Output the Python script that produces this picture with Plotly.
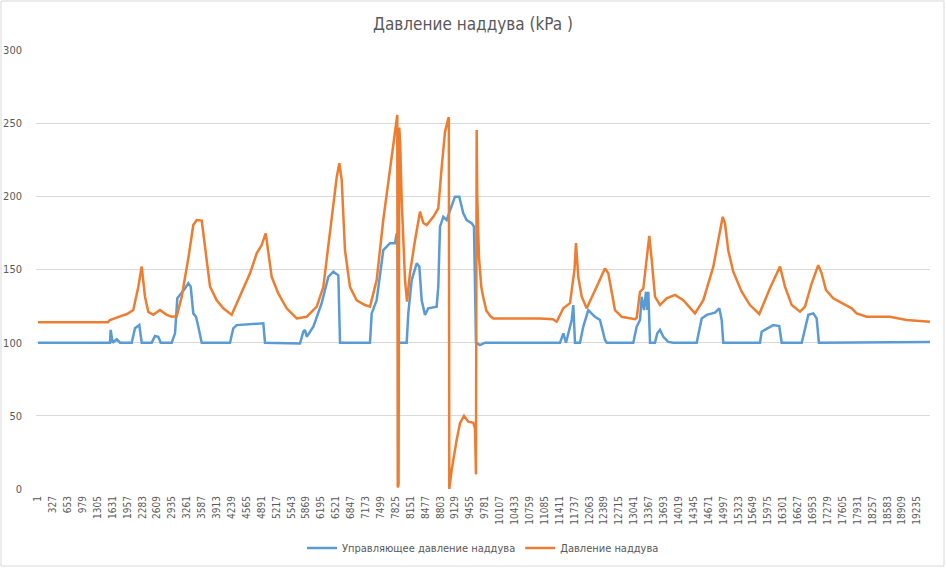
import plotly.graph_objects as go

# ---- data (sample index, value in kPa) ----
blue_name = "Управляющее давление наддува"
orange_name = "Давление наддува"

blue_x = [1, 1576, 1591, 1635, 1723, 1795, 2051, 2123, 2217, 2270, 2489, 2561, 2633, 2686,
          2926, 2999, 3049, 3108, 3217, 3290, 3342, 3399, 3458, 3508, 3583, 4202, 4274, 4349,
          4931, 4968, 5734, 5806, 5843, 5880, 6025, 6208, 6353, 6462, 6572, 6609, 7265, 7302,
          7411, 7556, 7702, 7812, 7849, 7870, 7884, 8068, 8103, 8177, 8287, 8344, 8396, 8468,
          8540, 8724, 8759, 8797, 8869, 8943, 9015, 9124, 9218, 9306, 9380, 9490, 9540, 9584,
          9671, 9781, 11423, 11495, 11554, 11605, 11678, 11713, 11750, 11859, 11932, 12041,
          12188, 12297, 12407, 12444, 13026, 13100, 13173, 13210, 13260, 13304, 13332, 13354,
          13392, 13501, 13551, 13610, 13683, 13791, 13901, 14413, 14522, 14632, 14814, 14908,
          14960, 14995, 15798, 15835, 15979, 16089, 16220, 16273, 16711, 16783, 16856, 16965,
          17038, 17088, 18058, 18095, 19518]
blue_y = [100, 100, 108.7, 100, 102.3, 100, 100, 109.8, 112, 100, 100, 104.6, 104, 100,
          100, 106.4, 130.3, 132.6, 137, 140.6, 138.3, 120, 117.7, 111, 100, 100, 109.8, 112,
          113.2, 100, 99.5, 107.5, 108.7, 104, 111, 127, 145, 148.5, 146, 100, 100, 120,
          129, 163.3, 168, 168, 174.7, 168, 100, 100, 120, 142.8, 154.2, 152, 129, 119,
          123.5, 124.6, 138.3, 179.3, 186, 183.8, 190.7, 199.8, 199.8, 188.4, 183.8, 181.6, 179.3, 100,
          98.4, 100, 100, 106.4, 100, 106.4, 115.5, 125.7, 100, 100, 111, 122.3,
          117.7, 115.5, 101.8, 100, 100, 111, 115.5, 131.4, 122.3, 134.8, 122.3, 134.8,
          100, 100, 106.4, 108.7, 104, 100.5, 100, 100, 116.6, 119, 120.5, 123.5,
          115.5, 100, 100, 107.5, 109.8, 112, 111.4, 100, 100, 108.7, 119, 120,
          116.6, 100, 100, 100.4, 100.4]

orange_x = [1, 1533, 1576, 1686, 1795, 1948, 2086, 2195, 2270, 2342, 2414, 2523, 2670, 2817,
            2926, 3036, 3145, 3290, 3399, 3473, 3583, 3655, 3765, 3911, 4055, 4239, 4421, 4640,
            4786, 4895, 4983, 5114, 5258, 5442, 5661, 5880, 5953, 6099, 6243, 6390, 6537, 6594,
            6646, 6718, 6828, 6974, 7156, 7265, 7411, 7556, 7739, 7834, 7862, 7873, 7890, 7906,
            7925, 7959, 8031, 8075, 8140, 8250, 8359, 8431, 8505, 8650, 8759, 8834, 8906, 8978,
            8990, 9000, 9052, 9161, 9234, 9322, 9415, 9525, 9562, 9584, 9599, 9612, 9650, 9700,
            9744, 9810, 9900, 9963, 10985, 11269, 11350, 11495, 11641, 11740, 11772, 11822,
            11897, 12006, 12260, 12407, 12479, 12625, 12772, 13063, 13100, 13173, 13245, 13319,
            13376, 13429, 13501, 13610, 13756, 13938, 14120, 14376, 14558, 14777, 14923, 14982,
            15032, 15104, 15213, 15397, 15579, 15783, 16016, 16236, 16345, 16492, 16674, 16783,
            16930, 17073, 17147, 17241, 17401, 17657, 17804, 17913, 18132, 18642, 19008, 19518]
orange_y = [114, 114, 115.5, 117, 118, 119.6, 122.3, 138, 152, 131.4, 121, 119, 122.3, 119,
            117.7, 118, 131.4, 157.7, 180.4, 183.8, 183.4, 165.6, 138.3, 129, 123.5, 119, 131.4, 147.4,
            161, 166.7, 174.7, 145, 133.7, 123.5, 116.6, 117.7, 120, 124.6, 138, 175, 213, 222.6,
            211, 163, 138, 129, 125.7, 124.6, 142.8, 184, 227, 247.6, 255.6, 1, 3, 247,
            236, 197, 143, 128, 147.6, 170, 189.5, 181.8, 180.4, 186, 191.8, 220, 244, 253.3,
            254, 0, 13, 33.5, 45, 50, 46, 45.3, 41.5, 10, 245.3, 200, 158, 138,
            131, 122, 118, 116.6, 116.6, 116, 114.3, 123.5, 127, 150, 168, 145,
            131.4, 123.5, 140.6, 150.8, 147.4, 122.3, 117.7, 116, 117, 134.8, 137, 156.5,
            172.9, 156.5, 131.4, 125.7, 130.3, 132.6, 129, 120, 129, 151.9, 177, 186,
            181.6, 163, 148.5, 134.8, 125.7, 119.6, 137.2, 152, 138.3, 125.7, 121.2, 124.6,
            140.6, 153, 147.4, 136, 130.3, 125.7, 123.5, 120, 117.7, 117.7, 115.5, 114.3]

tick_vals = list(range(1, 19236, 326))
tick_text = [str(v) for v in tick_vals]
y_ticks = [0, 50, 100, 150, 200, 250, 300]

title_text = "Давление наддува (kPa )"

# ---- figure ----
W, H = 946, 568
ML, MR, MT, MB = 36, 16, 50, 79
pw, ph = W - ML - MR, H - MT - MB
legend_y_px = 548

fig = go.Figure()
fig.add_trace(go.Scatter(x=blue_x, y=blue_y, mode="lines", name=blue_name,
                         line=dict(color="#5B9BD5", width=2.5)))
fig.add_trace(go.Scatter(x=orange_x, y=orange_y, mode="lines", name=orange_name,
                         line=dict(color="#ED7D31", width=2.5)))

txt = "#595959"
fig.update_layout(
    width=W, height=H,
    margin=dict(l=ML, r=MR, t=MT, b=MB, autoexpand=False),
    paper_bgcolor="white", plot_bgcolor="white",
    font=dict(family="DejaVu Sans Condensed, sans-serif", color=txt, size=11),
    title=dict(text=title_text, x=0.5, xanchor="center", y=1 - 24 / H, yanchor="middle",
               font=dict(size=17, color=txt)),
    showlegend=True,
    legend=dict(orientation="h", x=0.5, xanchor="center", y=-(legend_y_px - (MT + ph)) / ph,
                yanchor="middle", font=dict(size=11, color=txt),
                itemwidth=30, bgcolor="rgba(0,0,0,0)"),
    xaxis=dict(range=[-43, 19518], tickmode="array", tickvals=tick_vals, ticktext=tick_text,
               tickangle=-90, showgrid=False, zeroline=False, showline=False, ticks="",
               automargin=False, ticklabelstandoff=4,
               tickfont=dict(size=10, color=txt)),
    yaxis=dict(range=[0, 300], tickmode="array", tickvals=y_ticks, showgrid=True,
               gridcolor="#D9D9D9", gridwidth=1, zeroline=False, showline=False,
               automargin=False, ticks="", ticklabelstandoff=13, tickfont=dict(size=11, color=txt)),
    shapes=[dict(type="rect", xref="paper", yref="paper",
                 x0=(1 - ML) / pw, x1=(W - 2 - ML) / pw,
                 y0=-(H - 2 - MT - ph) / ph, y1=1 + (MT - 1) / ph,
                 line=dict(color="#D9D9D9", width=1), fillcolor="rgba(0,0,0,0)", layer="below")],
)

fig.write_html("out.html")
